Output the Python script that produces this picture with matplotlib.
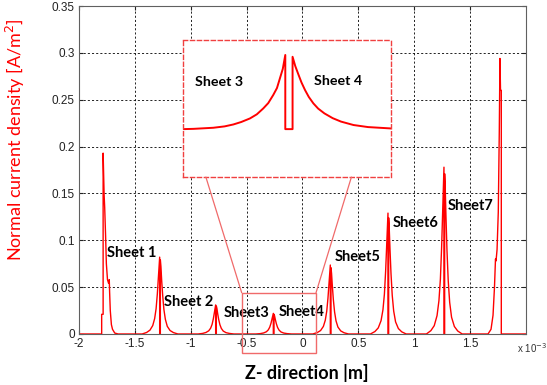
import matplotlib
matplotlib.use("Agg")
import matplotlib.pyplot as plt
from matplotlib.patches import Rectangle, ConnectionPatch

# z position (x 1e-3 m) and normal current density, peak by peak
z_edge_left = [-2.0, -1.82, -1.797, -1.797, -1.784, -1.784, -1.775, -1.77, -1.762, -1.755, -1.745,
               -1.735, -1.729, -1.726, -1.72, -1.71, -1.70, -1.68, -1.65]
j_edge_left = [0, 0, 0, 0.021, 0.021, 0.193, 0.148, 0.135, 0.105, 0.075, 0.058,
               0.054, 0.058, 0.045, 0.025, 0.01, 0.005, 0.001, 0]

z_sheet1 = [-1.435, -1.395, -1.365, -1.340, -1.323, -1.310, -1.299, -1.290, -1.283, -1.278, -1.278,
            -1.272, -1.272, -1.267, -1.260, -1.251, -1.240, -1.227, -1.210, -1.185, -1.155, -1.115]
j_sheet1 = [0, 0.0016, 0.0041, 0.009, 0.0164, 0.027, 0.0426, 0.060, 0.074, 0.082, 0,
            0, 0.079, 0.072, 0.057, 0.041, 0.026, 0.0156, 0.0082, 0.0037, 0.0015, 0]

z_sheet2 = [-0.934, -0.894, -0.864, -0.839, -0.822, -0.809, -0.798, -0.789, -0.782, -0.777, -0.777,
            -0.771, -0.771, -0.766, -0.759, -0.750, -0.739, -0.726, -0.709, -0.684, -0.654, -0.614]
j_sheet2 = [0, 0.0006, 0.0016, 0.0034, 0.0062, 0.0102, 0.0161, 0.0226, 0.0279, 0.031, 0,
            0, 0.0298, 0.0273, 0.0217, 0.0155, 0.0099, 0.0059, 0.0031, 0.0014, 0.0006, 0]

z_sheet34 = [-0.418, -0.378, -0.348, -0.323, -0.306, -0.293, -0.282, -0.273, -0.266, -0.261, -0.261,
             -0.255, -0.255, -0.250, -0.243, -0.234, -0.223, -0.210, -0.193, -0.168, -0.138, -0.098]
j_sheet34 = [0, 0.0004, 0.0011, 0.0024, 0.0044, 0.0073, 0.0114, 0.0161, 0.0198, 0.022, 0,
             0, 0.0211, 0.0194, 0.0154, 0.011, 0.007, 0.0042, 0.0022, 0.001, 0.0004, 0]

z_sheet5 = [0.092, 0.132, 0.162, 0.187, 0.204, 0.217, 0.228, 0.237, 0.244, 0.249, 0.249,
            0.255, 0.255, 0.260, 0.267, 0.276, 0.287, 0.300, 0.317, 0.342, 0.372, 0.412]
j_sheet5 = [0, 0.0015, 0.0037, 0.0081, 0.0147, 0.0243, 0.0383, 0.0537, 0.0662, 0.0736, 0,
            0, 0.0707, 0.0648, 0.0515, 0.0368, 0.0236, 0.014, 0.0074, 0.0033, 0.0013, 0]

z_sheet6 = [0.608, 0.648, 0.678, 0.703, 0.720, 0.733, 0.744, 0.753, 0.760, 0.765, 0.765,
            0.771, 0.771, 0.776, 0.783, 0.792, 0.803, 0.816, 0.833, 0.858, 0.888, 0.928]
j_sheet6 = [0, 0.0026, 0.0065, 0.0142, 0.0258, 0.0426, 0.0671, 0.0942, 0.116, 0.129, 0,
            0, 0.124, 0.1135, 0.0903, 0.0645, 0.0413, 0.0245, 0.0129, 0.0058, 0.0023, 0]

z_sheet7 = [1.109, 1.149, 1.179, 1.204, 1.221, 1.234, 1.245, 1.254, 1.261, 1.266, 1.266,
            1.272, 1.272, 1.277, 1.284, 1.293, 1.304, 1.317, 1.334, 1.359, 1.389, 1.429]
j_sheet7 = [0, 0.0036, 0.0089, 0.0196, 0.0356, 0.0587, 0.0926, 0.13, 0.16, 0.178, 0,
            0, 0.171, 0.157, 0.125, 0.089, 0.057, 0.0338, 0.0178, 0.008, 0.0032, 0]

z_edge_right = [1.660, 1.687, 1.705, 1.718, 1.727, 1.732, 1.741, 1.752, 1.761, 1.767, 1.772,
                1.779, 1.779, 1.794, 2.0]
j_edge_right = [0, 0.005, 0.02, 0.05, 0.08, 0.078, 0.09, 0.13, 0.216, 0.294, 0.26,
                0.26, 0, 0, 0]

# zoomed view of the sheet 3 / sheet 4 peak (inset units 0..1)
u_zoom = [0.0, 0.05, 0.146, 0.2, 0.242, 0.28, 0.322, 0.355, 0.386, 0.41, 0.434, 0.452,
          0.466, 0.48, 0.492, 0.492, 0.527, 0.527, 0.54, 0.556, 0.57, 0.587, 0.605,
          0.627, 0.65, 0.68, 0.72, 0.76, 0.82, 0.89, 1.0]
v_zoom = [0.350, 0.352, 0.360, 0.370, 0.384, 0.402, 0.428, 0.458, 0.501, 0.54, 0.599, 0.65,
          0.720, 0.79, 0.891, 0.350, 0.350, 0.878, 0.81, 0.745, 0.69, 0.635, 0.585,
          0.538, 0.50, 0.465, 0.43, 0.405, 0.38, 0.365, 0.355]

sheet_names = ["Sheet 1", "Sheet 2", "Sheet3", "Sheet4", "Sheet5", "Sheet6", "Sheet7"]
sheet_label_z = [-1.752, -1.239, -0.709, -0.216, 0.285, 0.804, 1.299]
sheet_label_j = [0.0868, 0.0345, 0.0227, 0.0235, 0.0825, 0.118, 0.137]

x_ticks = [-2, -1.5, -1, -0.5, 0, 0.5, 1, 1.5]
x_labels = ["-2", "-1.5", "-1", "-0.5", "0", "0.5", "1", "1.5"]
y_ticks = [0, 0.05, 0.1, 0.15, 0.2, 0.25, 0.3, 0.35]
y_labels = ["0", "0.05", "0.1", "0.15", "0.2", "0.25", "0.3", "0.35"]

z_all = (z_edge_left + z_sheet1 + z_sheet2 + z_sheet34 + z_sheet5 + z_sheet6
         + z_sheet7 + z_edge_right)
j_all = (j_edge_left + j_sheet1 + j_sheet2 + j_sheet34 + j_sheet5 + j_sheet6
         + j_sheet7 + j_edge_right)

fig = plt.figure(figsize=(5.47, 3.85), dpi=100)
ax = fig.add_axes([0.1444, 0.1325, 0.8172, 0.8519])

ax.plot(z_all, j_all, color="red", lw=1.0)
ax.set_xlim(-2, 2)
ax.set_ylim(0, 0.35)
ax.set_xticks(x_ticks)
ax.set_xticklabels(x_labels)
ax.set_yticks(y_ticks)
ax.set_yticklabels(y_labels)
ax.tick_params(direction="in", length=3, labelsize=8.5, colors="#222222",
               top=True, right=True, pad=3)
for lab in ax.get_xticklabels() + ax.get_yticklabels():
    lab.set_fontfamily("Liberation Sans")
ax.grid(True, color="black", linestyle=(0, (2.5, 2.5)), lw=0.6)
for sp in ax.spines.values():
    sp.set_color("#606060")
    sp.set_linewidth(0.8)

for name, zx, jy in zip(sheet_names, sheet_label_z, sheet_label_j):
    ax.text(zx, jy, name, fontfamily="Lato", fontweight="bold", fontsize=10.5,
            ha="left", va="center", color="black")

# small box around the zoomed peak
ax.add_patch(Rectangle((-0.544, -0.020), 0.665, 0.064, fill=False,
                       edgecolor="#f06a6a", lw=1.0, clip_on=False, zorder=5))

# inset with the zoomed peak
ins = fig.add_axes([0.3346, 0.540, 0.380, 0.356])
ins.set_facecolor("white")
ins.plot(u_zoom, v_zoom, color="red", lw=1.4)
ins.set_xlim(0, 1)
ins.set_ylim(0, 1)
ins.set_xticks([])
ins.set_yticks([])
for sp in ins.spines.values():
    sp.set_color("#f04040")
    sp.set_linestyle((0, (3, 2)))
    sp.set_linewidth(1.0)
ins.text(0.058, 0.696, "Sheet 3", fontfamily="Lato", fontweight="bold", fontsize=10.3,
         ha="left", va="center")
ins.text(0.63, 0.70, "Sheet 4", fontfamily="Lato", fontweight="bold", fontsize=10.3,
         ha="left", va="center")

for box_x, ins_x in [(-0.544, 0.11), (0.121, 0.81)]:
    con = ConnectionPatch(xyA=(box_x, 0.044), coordsA=ax.transData,
                          xyB=(ins_x, 0.0), coordsB=ins.transAxes,
                          color="#f06a6a", lw=0.9)
    fig.add_artist(con)

fig.text(0.561, 0.031, "Z- direction |m]", fontfamily="Lato", fontweight="bold",
         fontsize=13, ha="center", va="center")
fig.text(0.028, 0.638, "Normal current density [A/m$^2$]", fontfamily="Lato",
         fontsize=13, color="red", rotation=90, ha="center", va="center")
fig.text(0.945, 0.096, "x 10$^{-3}$", fontfamily="Liberation Sans", fontsize=7,
         color="#333333", ha="left", va="center")

fig.savefig("out.png", dpi=100)
